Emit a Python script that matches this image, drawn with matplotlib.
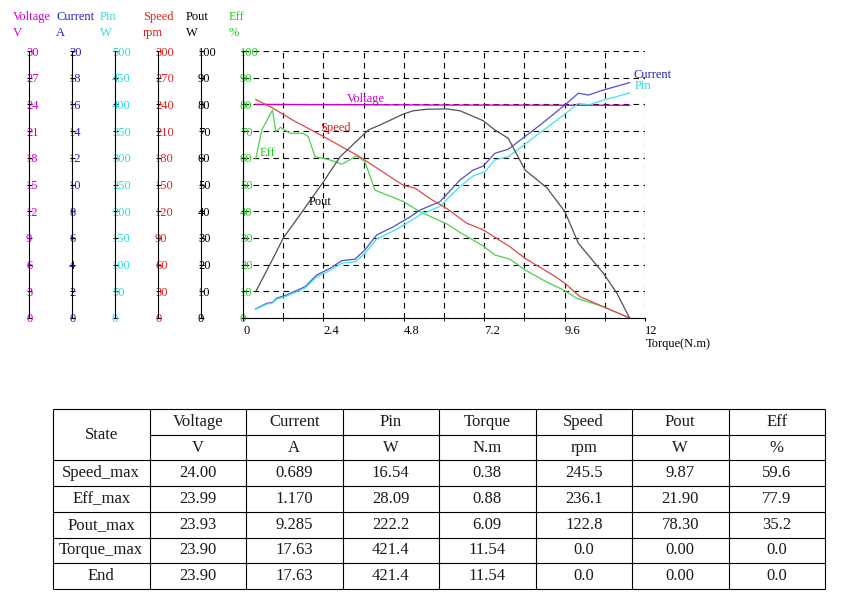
import matplotlib
matplotlib.use("Agg")
import matplotlib.pyplot as plt
import numpy as np

plt.rcParams['font.family'] = ['Liberation Serif', 'DejaVu Serif']

# ---- curve data (torque in N.m) ----
volt_t = [0.38, 0.88, 6.09, 11.54]
volt_v = [24.00, 23.99, 23.93, 23.90]

cur_t = [0.38, 0.71, 0.88, 1.0, 1.3, 1.85, 2.2, 2.6, 2.95, 3.34, 3.64, 3.99, 4.49, 4.99, 5.28,
         5.88, 6.09, 6.48, 6.87, 7.17, 7.52, 7.92, 8.87, 9.61, 10.01, 10.31, 10.76, 11.54]
cur_a = [0.689, 1.10, 1.170, 1.48, 1.72, 2.34, 3.22, 3.72, 4.30, 4.40, 5.10, 6.22, 6.84, 7.58, 8.08,
         8.72, 9.285, 10.34, 11.08, 11.38, 12.34, 12.64, 14.46, 15.96, 16.84, 16.70, 17.08, 17.63]

pin_t = [0.38, 0.71, 0.88, 1.0, 1.3, 1.85, 2.2, 2.6, 2.95, 3.34, 3.64, 3.99, 4.49, 4.99, 5.28,
         5.88, 6.09, 6.48, 6.87, 7.22, 7.52, 7.92, 8.87, 9.61, 10.01, 10.31, 10.76, 11.54]
pin_w = [16.54, 26.0, 28.09, 35.0, 41.0, 56.0, 77.0, 89.0, 103.0, 105.0, 121.0, 148.0, 163.0, 181.0, 193.0,
         209.0, 222.2, 246.0, 266.0, 274.0, 296.0, 302.0, 347.0, 382.0, 402.0, 399.0, 408.0, 421.4]

spd_t = [0.38, 0.88, 1.5, 2.4, 3.49, 4.3, 4.79, 5.13, 5.63, 6.09, 6.68, 7.17, 7.97, 8.42,
         9.26, 9.61, 10.06, 10.76, 11.54]
spd_r = [245.5, 236.1, 222.0, 204.0, 181.0, 161.0, 149.0, 146.0, 133.0, 122.8, 106.5, 99.0, 80.0, 67.0,
         48.0, 39.0, 24.0, 12.6, 0.0]

pout_t = [0.38, 0.88, 1.2, 1.8, 2.4, 2.9, 3.74, 4.09, 4.79, 5.08, 5.5, 6.09, 6.48, 7.17, 7.52,
          7.92, 8.42, 9.07, 9.61, 10.01, 10.76, 11.16, 11.54]
pout_w = [9.87, 21.90, 29.9, 40.4, 51.0, 60.4, 70.4, 72.3, 76.4, 77.6, 78.2, 78.30, 77.6, 73.9, 70.4,
          67.3, 55.4, 48.8, 39.8, 28.0, 16.7, 9.3, 0.0]

eff_t = [0.38, 0.56, 0.88, 0.98, 1.12, 1.40, 1.80, 1.95, 2.15, 2.55, 2.95, 3.39, 3.64, 3.94, 4.79,
         5.28, 6.09, 6.48, 7.17, 7.52, 7.97, 8.42, 8.96, 9.61, 9.96, 10.76, 11.54]
eff_p = [59.6, 70.4, 77.9, 69.8, 71.4, 69.2, 69.2, 67.9, 60.4, 59.4, 57.6, 60.7, 58.5, 47.9, 43.6,
         39.8, 35.2, 32.0, 27.0, 23.6, 22.0, 18.0, 14.2, 10.2, 7.4, 4.2, 0.0]

# ---- table data ----
tbl_head = ['Voltage', 'Current', 'Pin', 'Torque', 'Speed', 'Pout', 'Eff']
tbl_units = ['V', 'A', 'W', 'N.m', 'rpm', 'W', '%']
tbl_states = ['Speed_max', 'Eff_max', 'Pout_max', 'Torque_max', 'End']
tbl_rows = [
    ['24.00', '0.689', '16.54', '0.38', '245.5', '9.87', '59.6'],
    ['23.99', '1.170', '28.09', '0.88', '236.1', '21.90', '77.9'],
    ['23.93', '9.285', '222.2', '6.09', '122.8', '78.30', '35.2'],
    ['23.90', '17.63', '421.4', '11.54', '0.0', '0.00', '0.0'],
    ['23.90', '17.63', '421.4', '11.54', '0.0', '0.00', '0.0'],
]

W, H = 850, 606
fig = plt.figure(figsize=(W / 100, H / 100), dpi=100)
rect = [243 / W, 1 - 318 / H, (645 - 243) / W, (318 - 51) / H]
fs = 9

c_volt, c_cur, c_pin, c_spd, c_pout, c_eff = '#CC00CC', '#2020C0', '#30DCDC', '#E02020', '#000000', '#20CC20'

# main axes carries the Eff scale
ax = fig.add_axes(rect)
ax.set_xlim(0, 12)
ax.set_ylim(0, 100)
ax.set_xticks(np.arange(0, 12.01, 2.4))
ax.set_xticks(np.arange(1.2, 12, 2.4), minor=True)
ax.set_xticklabels(['0', '2.4', '4.8', '7.2', '9.6', '12'])
ax.set_yticks(np.arange(0, 101, 10))
ax.spines['top'].set_visible(False)
ax.spines['right'].set_visible(False)
ax.grid(True, which='both', color='black', linestyle=(0, (5, 4)), linewidth=0.8)
ax.tick_params(axis='x', which='both', direction='out', length=2.2, pad=3.2, labelsize=fs)
ax.tick_params(axis='y', direction='inout', length=3.6, pad=0.36, labelsize=fs, labelcolor=c_eff)
for lab in ax.get_xticklabels():
    lab.set_ha('left')
for lab in ax.get_yticklabels():
    lab.set_ha('left')
ax.set_xlabel('Torque(N.m)', fontsize=fs, ha='left', va='top')
ax.xaxis.set_label_coords(1.002, -0.075)

ax.plot(eff_t, eff_p, color='#50D050', lw=0.9)
ax.text(0.51, 61.7, 'Eff', color=c_eff, fontsize=fs, va='center')


def side_axis(offset_px, top, step, color):
    a = fig.add_axes(rect, sharex=ax)
    a.patch.set_visible(False)
    for s in ['top', 'right', 'bottom']:
        a.spines[s].set_visible(False)
    a.spines['left'].set_position(('outward', offset_px * 0.72))
    a.xaxis.set_visible(False)
    a.set_ylim(0, top)
    a.set_yticks(np.arange(0, top + step / 2, step))
    a.tick_params(axis='y', direction='inout', length=3.6, pad=0.36, labelsize=fs, labelcolor=color)
    for lab in a.get_yticklabels():
        lab.set_ha('left')
    return a


ax_v = side_axis(243 - 29, 30, 3, c_volt)
ax_c = side_axis(243 - 72, 20, 2, c_cur)
ax_p = side_axis(243 - 115, 500, 50, c_pin)
ax_s = side_axis(243 - 158, 300, 30, c_spd)
ax_o = side_axis(243 - 201, 100, 10, c_pout)

ax_v.plot(volt_t, volt_v, color=c_volt, lw=1.0)
ax_c.plot(cur_t, cur_a, color='#5050CC', lw=0.9)
ax_p.plot(pin_t, pin_w, color='#40E4E4', lw=0.9)
ax_s.plot(spd_t, spd_r, color='#E04848', lw=0.9)
ax_o.plot(pout_t, pout_w, color='#505050', lw=0.9)

ax_v.text(3.1, 24.6, 'Voltage', color=c_volt, fontsize=fs, va='center')
ax_c.text(11.65, 18.2, 'Current', color=c_cur, fontsize=fs, va='center')
ax_p.text(11.7, 434, 'Pin', color=c_pin, fontsize=fs, va='center')
ax_s.text(2.3, 214, 'Speed', color=c_spd, fontsize=fs, va='center')
ax_o.text(1.95, 43.6, 'Pout', color=c_pout, fontsize=fs, va='center')

# axis headers
headers = [('Voltage\nV', 13, c_volt), ('Current\nA', 56, c_cur), ('Pin\nW', 100, c_pin),
           ('Speed\nrpm', 143, c_spd), ('Pout\nW', 186, c_pout), ('Eff\n%', 229, c_eff)]
for txt, xp, col in headers:
    fig.text(xp / W, 1 - 11 / H, txt, color=col, fontsize=fs, ha='left', va='top', linespacing=1.45)

# ---- table ----
at = fig.add_axes([53 / W, 1 - 589 / H, (825 - 53) / W, (589 - 409) / H])
at.set_xlim(0, 8)
at.set_ylim(7, 0)
at.axis('off')
lc = dict(color='black', lw=0.8, clip_on=False)
at.hlines(0, 0, 8, **lc)
at.hlines(1, 1, 8, **lc)
at.hlines(np.arange(2, 8), 0, 8, **lc)
at.vlines(np.arange(0, 9), 0, 7, **lc)
tfs = 12
tc = '#1a1a1a'
at.text(0.5, 1.0, 'State', ha='center', va='center', fontsize=tfs, color=tc)
for i, (h, u) in enumerate(zip(tbl_head, tbl_units)):
    at.text(i + 1.5, 0.5, h, ha='center', va='center', fontsize=tfs, color=tc)
    at.text(i + 1.5, 1.5, u, ha='center', va='center', fontsize=tfs, color=tc)
for r, (st, row) in enumerate(zip(tbl_states, tbl_rows)):
    at.text(0.5, r + 2.5, st, ha='center', va='center', fontsize=tfs, color=tc)
    for i, v in enumerate(row):
        at.text(i + 1.5, r + 2.5, v, ha='center', va='center', fontsize=tfs, color=tc)

plt.savefig('out.png', dpi=100)
